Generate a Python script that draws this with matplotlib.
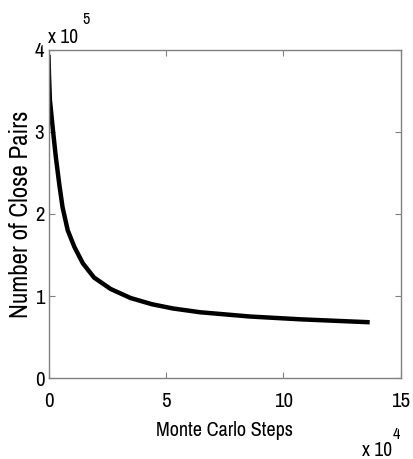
import matplotlib
matplotlib.use("Agg")
import matplotlib.pyplot as plt
from matplotlib import font_manager as fm
from matplotlib.ticker import FuncFormatter, FixedLocator

# Data (x in Monte Carlo steps, y in number of close pairs)
steps = [0, 200, 600, 1900, 3100, 4600, 6000, 8200, 11000, 14600, 19400,
         26500, 35000, 44000, 53000, 64500, 85700, 107000, 128300, 136800]
close_pairs = [394000, 370000, 339000, 302000, 270000, 236000, 208000, 180000,
               160000, 140000, 122500, 108500, 97500, 90000, 84800, 80200,
               75000, 71600, 69000, 68000]

x_ticks = [0, 50000, 100000, 150000]
y_ticks = [0, 100000, 200000, 300000, 400000]
x_label = "Monte Carlo Steps"
y_label = "Number of Close Pairs"

names = {f.name for f in fm.fontManager.ttflist}
pref = ['Liberation Sans Narrow', 'Arial Narrow', 'Archivo Narrow', 'PT Sans Narrow',
        'Roboto Condensed', 'IBM Plex Sans Condensed', 'Sofia Sans Semi Condensed',
        'Liberation Sans']
fam = next(p for p in pref if p in names)
plt.rcParams['font.family'] = [fam, 'DejaVu Sans']

W, H = 413, 459
fig = plt.figure(figsize=(W / 100, H / 100), dpi=100)
L, R, T, B = 48.5, 400.7, 50, 378
ax = fig.add_axes([L / W, 1 - B / H, (R - L) / W, (B - T) / H])

ax.plot(steps, close_pairs, color='black', linewidth=3.2, solid_capstyle='butt')
ax.set_xlim(0, 150000)
ax.set_ylim(0, 400000)
ax.xaxis.set_major_locator(FixedLocator(x_ticks))
ax.yaxis.set_major_locator(FixedLocator(y_ticks))
ax.xaxis.set_major_formatter(FuncFormatter(lambda v, p: f"{v/1e4:g}"))
ax.yaxis.set_major_formatter(FuncFormatter(lambda v, p: f"{v/1e5:g}"))

gray = '#808080'
for s in ax.spines.values():
    s.set_color(gray)
    s.set_linewidth(1.0)
ax.tick_params(direction='in', length=4, width=0.8, color=gray,
               top=True, right=True, labelsize=15)
ax.tick_params(axis='x', pad=10)
ax.tick_params(axis='y', pad=3)

ax.set_xlabel(x_label, fontsize=14.5, labelpad=7)
ax.set_ylabel(y_label, fontsize=18, labelpad=2)

# MATLAB style exponent labels
fig.text(48 / W, 1 - 43 / H, "x 10", fontsize=14, ha='left', va='baseline')
fig.text(82 / W, 1 - 24 / H, "5", fontsize=11.5, ha='left', va='baseline')
fig.text(362 / W, 1 - 456 / H, "x 10", fontsize=14, ha='left', va='baseline')
fig.text(393 / W, 1 - 439 / H, "4", fontsize=11.5, ha='left', va='baseline')

fig.savefig("out.png", dpi=100)
